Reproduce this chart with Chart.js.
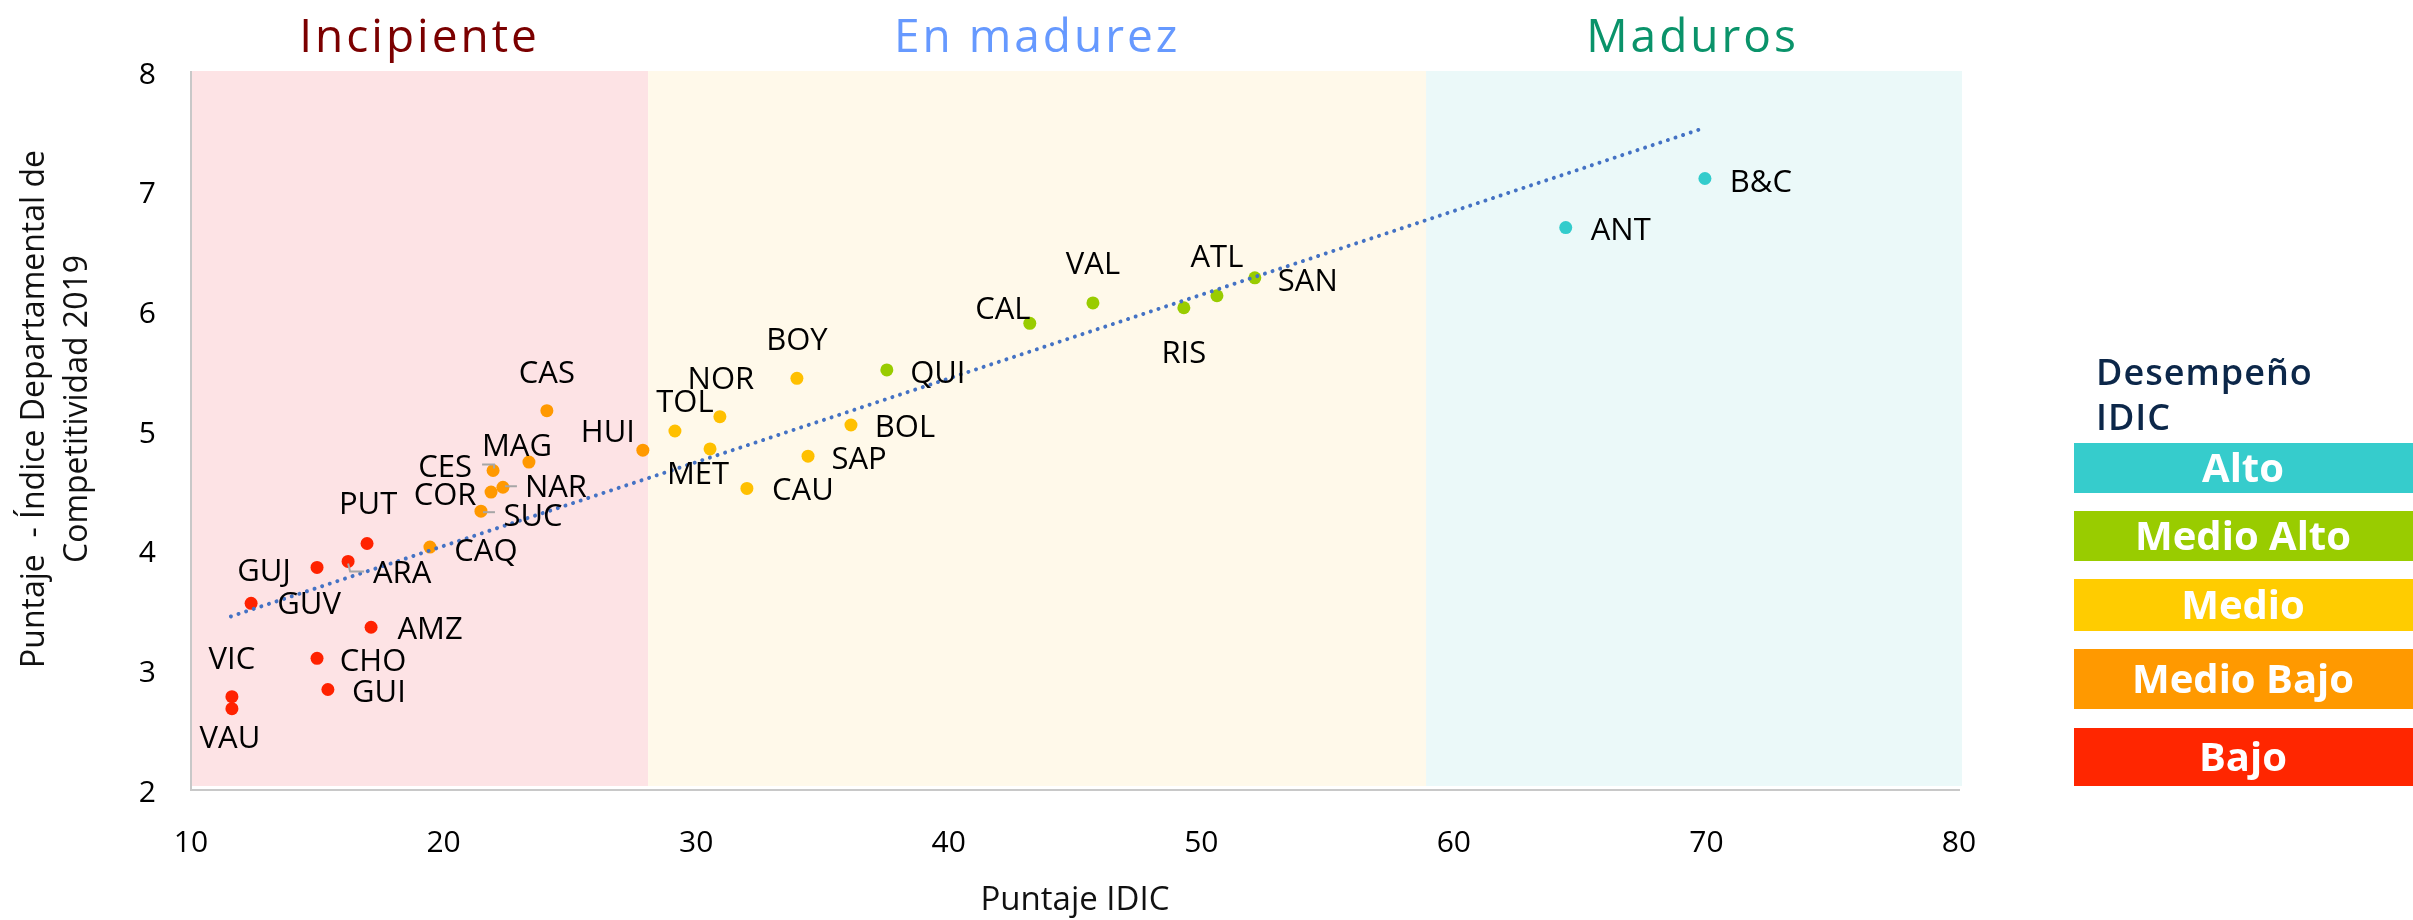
<!DOCTYPE html>
<html lang="es">
<head>
<meta charset="utf-8">
<title>IDIC vs IDC 2019</title>
<script src="https://cdn.jsdelivr.net/npm/chart.js@4.4.1/dist/chart.umd.min.js"></script>
<style>
  html, body { margin: 0; padding: 0; background: #fff; }
  #wrap { position: relative; width: 2413px; height: 920px; }
</style>
</head>
<body>
<div id="wrap"><canvas id="myChart"></canvas></div>
<script>
// departamentos
const codes = ['VAU', 'VIC', 'GUI', 'CHO', 'AMZ', 'GUV', 'GUJ', 'ARA', 'PUT',
               'CAQ', 'SUC', 'COR', 'NAR', 'CES', 'MAG', 'CAS', 'HUI',
               'TOL', 'MET', 'NOR', 'CAU', 'SAP', 'BOY', 'BOL',
               'QUI', 'CAL', 'VAL', 'RIS', 'ATL', 'SAN',
               'ANT', 'B&C'];
// Puntaje IDIC (eje x)
const idic = [11.62, 11.62, 15.42, 14.99, 17.13, 12.38, 14.99, 16.22, 16.97,
              19.46, 21.48, 21.88, 22.35, 21.96, 23.38, 24.09, 27.89,
              29.16, 30.55, 30.94, 32.01, 34.43, 33.99, 36.13,
              37.55, 43.21, 45.71, 49.31, 50.62, 52.12,
              64.43, 69.94];
// Puntaje IDC 2019 (eje y)
const idc = [2.68, 2.78, 2.84, 3.10, 3.36, 3.56, 3.86, 3.91, 4.06,
             4.03, 4.33, 4.49, 4.53, 4.67, 4.74, 5.17, 4.84,
             5.00, 4.85, 5.12, 4.52, 4.79, 5.44, 5.05,
             5.51, 5.90, 6.07, 6.03, 6.13, 6.28,
             6.70, 7.11];
// desempeño IDIC
const levels = ['Alto', 'Medio Alto', 'Medio', 'Medio Bajo', 'Bajo'];
const level = ['Bajo', 'Bajo', 'Bajo', 'Bajo', 'Bajo', 'Bajo', 'Bajo', 'Bajo', 'Bajo',
               'Medio Bajo', 'Medio Bajo', 'Medio Bajo', 'Medio Bajo', 'Medio Bajo', 'Medio Bajo', 'Medio Bajo', 'Medio Bajo',
               'Medio', 'Medio', 'Medio', 'Medio', 'Medio', 'Medio', 'Medio',
               'Medio Alto', 'Medio Alto', 'Medio Alto', 'Medio Alto', 'Medio Alto', 'Medio Alto',
               'Alto', 'Alto'];
// tendencia lineal
const trendX = [11.58, 69.74];
const trendY = [3.45, 7.52];
// etapas
const stageEdges = [10, 28.1, 58.9, 80];
const stageNames = ['Incipiente', 'En madurez', 'Maduros'];
const xTicks = [10, 20, 30, 40, 50, 60, 70, 80];
const yTicks = [2, 3, 4, 5, 6, 7, 8];
const yTitle = ['Puntaje  - Índice Departamental de', 'Competitividad 2019'];

const pointColors = {'Alto': '#33CCCC', 'Medio Alto': '#99CC00', 'Medio': '#FFC000', 'Medio Bajo': '#FF9900', 'Bajo': '#FF2200'};
const legendColors = {'Alto': '#36CCCC', 'Medio Alto': '#99CC00', 'Medio': '#FFCC00', 'Medio Bajo': '#FF9900', 'Bajo': '#FF2600'};
const stageFill = ['#FDE3E5', '#FFF9EA', '#EBF9F9'];
const stageText = ['#7B0000', '#6699FF', '#0A936A'];

// label center offsets from the point, px
const labelOffsets = {
  'VAU': [-2, 28], 'VIC': [0, -39], 'GUI': [51, 2], 'CHO': [56, 2], 'AMZ': [59, 1],
  'GUV': [58, 0], 'GUJ': [-53, 3], 'ARA': [54, 11], 'PUT': [1, -40],
  'CAQ': [56, 3], 'SUC': [52, 4], 'COR': [-46, 2], 'NAR': [53, -1], 'CES': [-48, -4],
  'MAG': [-12, -17], 'CAS': [0, -39], 'HUI': [-35, -19],
  'TOL': [10, -30], 'MET': [-12, 24], 'NOR': [1, -39], 'CAU': [56, 1], 'SAP': [51, 2],
  'BOY': [0, -39], 'BOL': [54, 1], 'QUI': [51, 2], 'CAL': [-27, -15], 'VAL': [0, -40],
  'RIS': [0, 44], 'ATL': [0, -40], 'SAN': [53, 2], 'ANT': [55, 1], 'B&C': [56, 2]
};
const leaders = {
  'CES': [[-11, -6], [1, -6], [1, -2]],
  'NAR': [[2, -1], [14, -1]],
  'SUC': [[2, 1], [14, 1]],
  'ARA': [[0, 2], [2, 10], [16, 10]]
};

const datasets = levels.map(lv => ({
  type: 'scatter',
  label: lv,
  data: codes.map((c, i) => ({x: idic[i], y: idc[i], code: c}))
             .filter((p, i) => level[i] === lv),
  backgroundColor: pointColors[lv],
  borderWidth: 0,
  pointRadius: 6.5,
  pointHoverRadius: 6.5,
  order: 2
}));
datasets.push({
  type: 'line',
  label: 'Tendencia',
  data: trendX.map((x, i) => ({x: x, y: trendY[i]})),
  borderColor: '#4472C4',
  borderWidth: 4,
  borderDash: [0.01, 8],
  borderCapStyle: 'round',
  pointRadius: 0,
  fill: false,
  order: 1
});

const stagesPlugin = {
  id: 'stages',
  beforeDraw(chart) {
    const {ctx, chartArea} = chart;
    const xs = chart.scales.x;
    ctx.save();
    for (let i = 0; i < stageNames.length; i++) {
      const x0 = xs.getPixelForValue(stageEdges[i]);
      const x1 = xs.getPixelForValue(stageEdges[i + 1]);
      ctx.fillStyle = stageFill[i];
      ctx.fillRect(x0, chartArea.top - 1, x1 - x0 + (i === 2 ? 3 : 0), chartArea.bottom - chartArea.top - 3);
      ctx.font = '46px "Open Sans"';
      ctx.letterSpacing = '3px';
      ctx.fillStyle = stageText[i];
      ctx.textAlign = 'center';
      ctx.textBaseline = 'alphabetic';
      ctx.fillText(stageNames[i], (x0 + x1) / 2, 52);
    }
    ctx.restore();
    // titulo eje y, dos lineas
    ctx.save();
    ctx.translate(0, 409);
    ctx.rotate(-Math.PI / 2);
    ctx.font = '32px "Open Sans"';
    ctx.fillStyle = '#111';
    ctx.textAlign = 'center';
    ctx.textBaseline = 'middle';
    ctx.fillText(yTitle[0], 0, 35);
    ctx.fillText(yTitle[1], 0, 78);
    ctx.restore();
  }
};

const labelsPlugin = {
  id: 'pointLabels',
  afterDatasetsDraw(chart) {
    const {ctx} = chart;
    const xs = chart.scales.x, ys = chart.scales.y;
    ctx.save();
    ctx.strokeStyle = '#A6A6A6';
    ctx.lineWidth = 2;
    codes.forEach((c, i) => {
      const ld = leaders[c];
      if (!ld) return;
      const px = xs.getPixelForValue(idic[i]), py = ys.getPixelForValue(idc[i]);
      ctx.beginPath();
      ld.forEach((p, k) => k ? ctx.lineTo(px + p[0], py + p[1]) : ctx.moveTo(px + p[0], py + p[1]));
      ctx.stroke();
    });
    ctx.font = '31px "Open Sans"';
    ctx.fillStyle = '#000';
    ctx.textAlign = 'center';
    ctx.textBaseline = 'alphabetic';
    codes.forEach((c, i) => {
      const px = xs.getPixelForValue(idic[i]), py = ys.getPixelForValue(idc[i]);
      const off = labelOffsets[c];
      ctx.fillText(c, px + off[0], py + off[1] + 11);
    });
    ctx.restore();
  }
};

// leyenda Desempeño IDIC
const legendRows = [[443, 493], [511, 561], [579, 631], [649, 709], [728, 786]];
const legendPlugin = {
  id: 'idicLegend',
  afterDraw(chart) {
    const {ctx} = chart;
    ctx.save();
    ctx.font = '600 36px "Open Sans"';
    ctx.letterSpacing = '1px';
    ctx.fillStyle = '#0C2749';
    ctx.textAlign = 'left';
    ctx.fillText('Desempeño', 2096, 385);
    ctx.fillText('IDIC', 2096, 430);
    ctx.letterSpacing = '0px';
    levels.forEach((lv, i) => {
      const [t, b] = legendRows[i];
      ctx.fillStyle = legendColors[lv];
      ctx.fillRect(2074, t, 2413 - 2074, b - t);
      ctx.fillStyle = '#fff';
      ctx.font = 'bold 40px "Open Sans"';
      ctx.textAlign = 'center';
      ctx.fillText(lv, 2243, (t + b) / 2 + 14);
    });
    ctx.restore();
  }
};

const config = {
  data: {datasets: datasets},
  options: {
    responsive: true,
    maintainAspectRatio: false,
    animation: false,
    layout: {padding: {top: 72, right: 454, left: 0, bottom: 0}},
    plugins: {
      legend: {display: false},
      tooltip: {enabled: false}
    },
    scales: {
      x: {
        type: 'linear',
        min: 10,
        max: 80,
        afterFit: s => { s.height = 130; },
        afterBuildTicks: s => { s.ticks = xTicks.map(v => ({value: v})); },
        grid: {color: 'transparent', drawTicks: false},
        border: {display: true, color: '#C8C8C8', width: 2},
        ticks: {padding: 35, color: '#000', font: {family: 'Open Sans', size: 30}},
        title: {
          display: true,
          text: 'Puntaje IDIC',
          color: '#111',
          padding: {top: 0, bottom: 0},
          font: {family: 'Open Sans', size: 33, lineHeight: 1.2}
        }
      },
      y: {
        type: 'linear',
        min: 2,
        max: 8,
        afterFit: s => { s.width = 191; },
        afterBuildTicks: s => { s.ticks = yTicks.map(v => ({value: v})); },
        grid: {color: 'transparent', drawTicks: false},
        border: {display: true, color: '#C8C8C8', width: 2},
        ticks: {padding: 35, labelOffset: 3, color: '#000', font: {family: 'Open Sans', size: 30}}
      }
    }
  },
  plugins: [stagesPlugin, labelsPlugin, legendPlugin]
};

const myChart = new Chart(document.getElementById('myChart'), config);
</script>
</body>
</html>
